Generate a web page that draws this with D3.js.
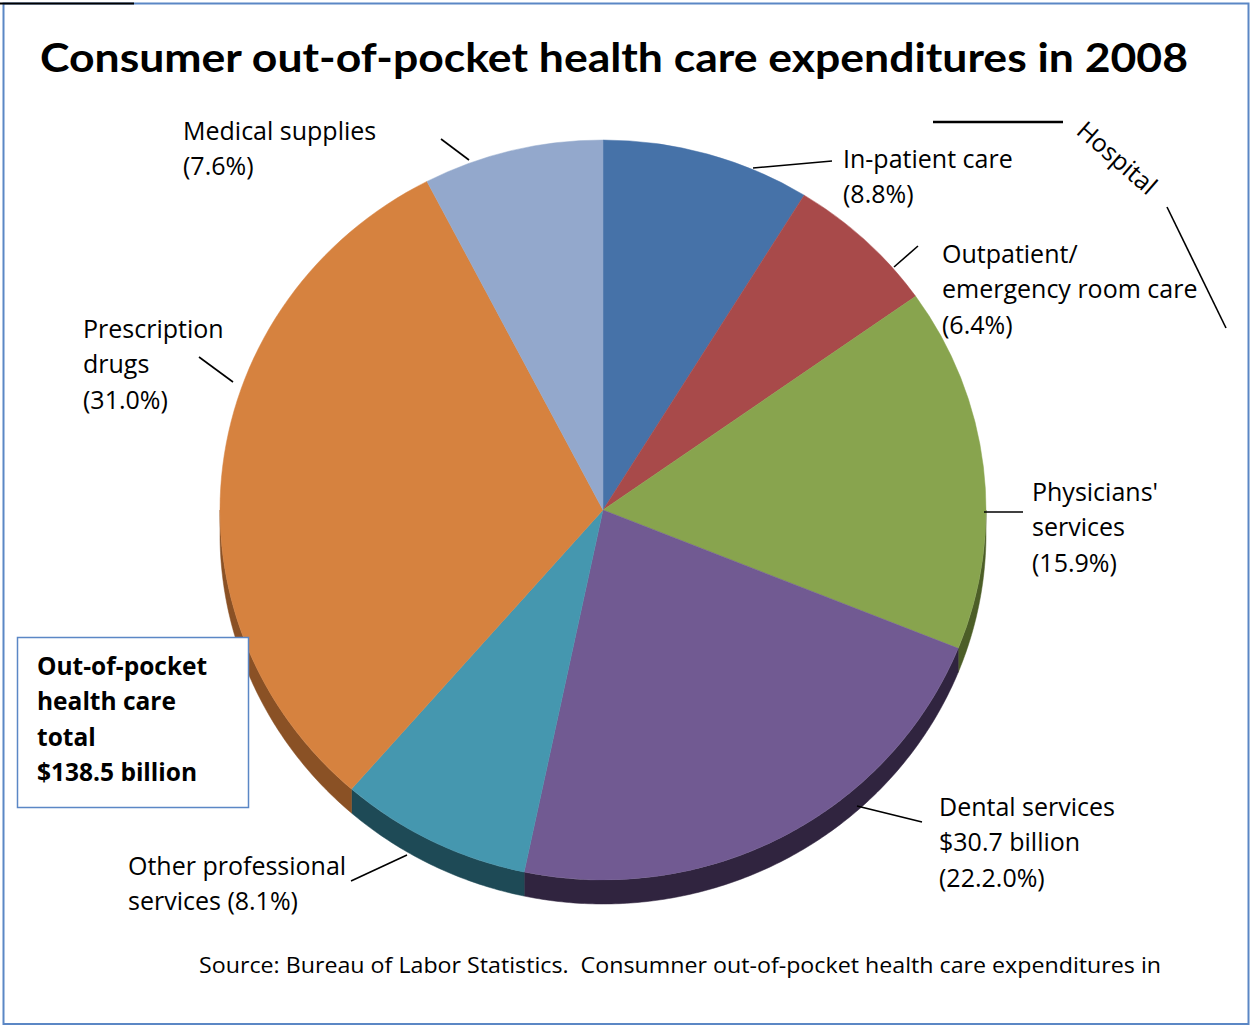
<!DOCTYPE html>
<html>
<head>
<meta charset="utf-8">
<script src="https://cdn.jsdelivr.net/npm/d3@7"></script>
<style>
  html, body { margin: 0; padding: 0; background: #fff; }
  svg { display: block; }
  text { font-family: "Open Sans", Lato, sans-serif; fill: #000; white-space: pre; }
  text.title { font-family: Lato, "Open Sans", sans-serif; }
</style>
</head>
<body>
<svg id="chart" width="1251" height="1026"></svg>
<script>
// Out-of-pocket spending shares, clockwise from 12 o'clock
const categories = [
  "In-patient care",
  "Outpatient/emergency room care",
  "Physicians' services",
  "Dental services",
  "Other professional services",
  "Prescription drugs",
  "Medical supplies"
];
const shares = [8.8, 6.4, 15.9, 22.2, 8.1, 31.0, 7.6];
const topColors  = ["#4672a8", "#a84a4a", "#88a44e", "#715a92", "#4597af", "#d6823f", "#93a8cc"];
const sideColors = ["#28446a", "#6a2b2b", "#4c5e27", "#30243f", "#1e4a56", "#8a5125", "#55698c"];

// Label text lines for each slice
const labelLines = [
  ["In-patient care", "(8.8%)"],
  ["Outpatient/", "emergency room care", "(6.4%)"],
  ["Physicians'", "services", "(15.9%)"],
  ["Dental services", "$30.7 billion", "(22.2.0%)"],
  ["Other professional", "services (8.1%)"],
  ["Prescription", "drugs", "(31.0%)"],
  ["Medical supplies", "(7.6%)"]
];
const titleText = "Consumer out-of-pocket health care expenditures in 2008";
const totalLines = ["Out-of-pocket", "health care", "total", "$138.5 billion"];
const sourceText = "Source: Bureau of Labor Statistics.  Consumner out-of-pocket health care expenditures in";

const svg = d3.select("#chart");
const W = 1251, H = 1026;

// Outer frame
svg.append("rect").attr("x", 3.5).attr("y", 3.5).attr("width", W - 6).attr("height", H - 5.5)
  .attr("fill", "#fff").attr("stroke", "#5b87c5").attr("stroke-width", 2);
svg.append("line").attr("x1", 0).attr("x2", 134).attr("y1", 3.5).attr("y2", 3.5)
  .attr("stroke", "#000").attr("stroke-width", 2);

// Title
svg.append("text").attr("class", "title").attr("x", 40).attr("y", 72)
  .attr("font-size", 41).attr("font-weight", "bold")
  .attr("textLength", 1148).attr("lengthAdjust", "spacingAndGlyphs")
  .text(titleText);

// Pie geometry: slightly flattened ellipse with a visible rim below
const cx = 603, cy = 510, rx = 383, ry = 370, depth = 24;
const pie = d3.pie().sort(null).value(d => d).startAngle(0).endAngle(2 * Math.PI);
const arcs = pie(shares);

const px = a => cx + rx * Math.sin(a);
const py = a => cy - ry * Math.cos(a);

// Rim (side wall) for the front-facing part of each slice
const rimG = svg.append("g");
const lineGen = d3.line();
arcs.forEach((d, i) => {
  const s = Math.max(d.startAngle, Math.PI / 2);
  const e = Math.min(d.endAngle, 3 * Math.PI / 2);
  if (e <= s) return;
  const n = Math.max(2, Math.ceil((e - s) / 0.01));
  const angles = d3.range(n + 1).map(k => s + (e - s) * k / n);
  const pts = angles.map(a => [px(a), py(a)])
    .concat(angles.slice().reverse().map(a => [px(a), py(a) + depth]));
  rimG.append("path").attr("d", lineGen(pts) + "Z")
    .attr("fill", sideColors[i]).attr("stroke", sideColors[i]).attr("stroke-width", 0.5);
});

// Top surface
const arc = d3.arc().innerRadius(0).outerRadius(rx);
svg.append("g")
  .attr("transform", `translate(${cx},${cy}) scale(1,${ry / rx})`)
  .selectAll("path").data(arcs).join("path")
  .attr("d", arc)
  .attr("fill", (d, i) => topColors[i])
  .attr("stroke", (d, i) => topColors[i]).attr("stroke-width", 0.5);

// Labels
const labelPos = [
  { x: 843, y: 168 },
  { x: 942, y: 263 },
  { x: 1032, y: 501 },
  { x: 939, y: 816 },
  { x: 128, y: 875 },
  { x: 83,  y: 338 },
  { x: 183, y: 140 }
];
const leaders = [
  [[753, 168], [832, 161]],
  [[894, 267], [918, 246]],
  [[984, 512], [1023, 512]],
  [[857, 806], [922, 822]],
  [[351, 881], [407, 855]],
  [[199, 357], [233, 382]],
  [[441, 139], [469, 160]]
];
const lineH = 35.3;
const labelSize = 25;
labelLines.forEach((lines, i) => {
  const t = svg.append("text").attr("font-size", labelSize);
  lines.forEach((ln, k) => {
    t.append("tspan").attr("x", labelPos[i].x).attr("y", labelPos[i].y + k * lineH).text(ln);
  });
  svg.append("line")
    .attr("x1", leaders[i][0][0]).attr("y1", leaders[i][0][1])
    .attr("x2", leaders[i][1][0]).attr("y2", leaders[i][1][1])
    .attr("stroke", "#000").attr("stroke-width", 1.6);
});

// "Hospital" bracket grouping the two hospital slices
svg.append("line").attr("x1", 933).attr("y1", 122).attr("x2", 1063).attr("y2", 122)
  .attr("stroke", "#000").attr("stroke-width", 2.5);
svg.append("line").attr("x1", 1167).attr("y1", 207).attr("x2", 1226).attr("y2", 328)
  .attr("stroke", "#000").attr("stroke-width", 1.6);
svg.append("text").attr("font-size", labelSize)
  .attr("transform", "translate(1075,133) rotate(41)")
  .text("Hospital");

// Total box
svg.append("rect").attr("x", 17.5).attr("y", 637.5).attr("width", 231).attr("height", 170)
  .attr("fill", "#fff").attr("stroke", "#5b87c5").attr("stroke-width", 1.5);
const tt = svg.append("text").attr("font-size", 24.5).attr("font-weight", "bold");
totalLines.forEach((ln, k) => {
  tt.append("tspan").attr("x", 37).attr("y", 675 + k * 35.3).text(ln);
});

// Source note
svg.append("text").attr("x", 199).attr("y", 973).attr("font-size", 21.5)
  .attr("textLength", 962).attr("lengthAdjust", "spacingAndGlyphs")
  .text(sourceText);
</script>
</body>
</html>
